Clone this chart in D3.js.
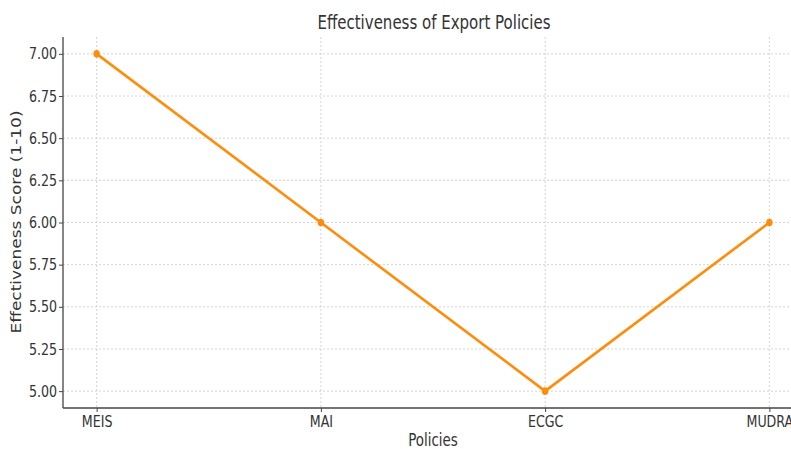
<!DOCTYPE html>
<html><head><meta charset="utf-8">
<script src="https://cdn.jsdelivr.net/npm/d3@7"></script>
<style>body{margin:0;background:#fff}svg{display:block}</style>
</head><body>
<script>
const policies = ["MEIS", "MAI", "ECGC", "MUDRA"];
const scores = [7, 6, 5, 6];
const yTicks = [5.00, 5.25, 5.50, 5.75, 6.00, 6.25, 6.50, 6.75, 7.00];
const title = "Effectiveness of Export Policies";
const xLabel = "Policies";
const yLabel = "Effectiveness Score (1-10)";

const W = 791, H = 449;
const SX = 0.79; // horizontal squeeze of the text
const mLeft = 63, mTop = 37, mBottom = 408, mRight = 803;
const svg = d3.select("body").append("svg").attr("width", W).attr("height", H);

const x = d3.scalePoint().domain(policies).range([mLeft, mRight]).padding(0.15);
const y = d3.scaleLinear().domain([4.9, 7.1]).range([mBottom, mTop]);

// grid
const grid = svg.append("g").attr("stroke", "#cfcfcf").attr("stroke-width", 0.9).attr("stroke-dasharray", "2,2");
yTicks.forEach(t => grid.append("line").attr("x1", mLeft).attr("x2", W).attr("y1", y(t)).attr("y2", y(t)));
policies.forEach(p => grid.append("line").attr("x1", x(p)).attr("x2", x(p)).attr("y1", mTop).attr("y2", mBottom));

// axes
const font = "'DejaVu Sans', sans-serif";
const yAxis = svg.append("g").attr("transform", `translate(${mLeft},0)`)
  .call(d3.axisLeft(y).tickValues(yTicks).tickFormat(d3.format(".2f")).tickSize(4).tickPadding(2));
const xAxis = svg.append("g").attr("transform", `translate(0,${mBottom})`)
  .call(d3.axisBottom(x).tickSize(4).tickPadding(4));
[yAxis, xAxis].forEach(a => {
  a.select(".domain").attr("stroke", "#444").attr("stroke-width", 1.3);
  a.selectAll(".tick line").attr("stroke", "#444");
  a.selectAll(".tick text").attr("fill", "#333").style("font-family", font).style("font-size", "16px");
});
yAxis.selectAll(".domain").attr("d", `M0,${mTop}V${mBottom}`);
xAxis.selectAll(".domain").attr("d", `M${mLeft},0H${W+20}`);
yAxis.selectAll(".tick text").attr("x", null).attr("transform", `translate(-6,0) scale(${SX},1)`);
xAxis.selectAll(".tick text").attr("transform", `scale(${SX},1)`);

// line
svg.append("path").datum(scores)
  .attr("fill", "none").attr("stroke", "#ff8c0a").attr("stroke-width", 2.6).attr("stroke-linejoin", "round")
  .attr("d", d3.line().x((d, i) => x(policies[i])).y(d => y(d)));
svg.append("g").selectAll("ellipse").data(scores).join("ellipse")
  .attr("cx", (d, i) => x(policies[i])).attr("cy", d => y(d)).attr("rx", 3.2).attr("ry", 3.8)
  .attr("fill", "#ff8c0a");

// titles
svg.append("text").attr("transform", `translate(434,29) scale(${SX},1)`).attr("text-anchor", "middle")
  .style("font-family", font).style("font-size", "19px").attr("fill", "#333").text(title);
svg.append("text").attr("transform", `translate(433,446) scale(${SX},1)`).attr("text-anchor", "middle")
  .style("font-family", font).style("font-size", "17px").attr("fill", "#333").text(xLabel);
svg.append("text").attr("transform", `translate(21,222) scale(${SX},1) rotate(-90)`).attr("text-anchor", "middle")
  .style("font-family", font).style("font-size", "17px").attr("fill", "#333").text(yLabel);
</script>
</body></html>
